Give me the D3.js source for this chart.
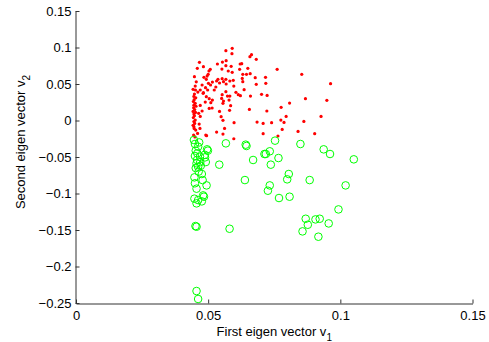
<!DOCTYPE html>
<html lang="en">

<head>
    <meta charset="utf-8">
    <script src='https://d3js.org/d3.v7.min.js'></script>
    <style>
        body { margin: 0; background: #fff; }
        text { font-family: "Liberation Sans", Arial, sans-serif; }
    </style>
</head>

<body>

    <script>
        // cluster 1 (red dots): first and second eigen vector components
        const redX = [0.0591, 0.0567, 0.0664, 0.0658, 0.0590, 0.0467, 0.0554, 0.0568, 0.0535, 0.0587,
            0.0567, 0.0627, 0.0621, 0.0682, 0.0482, 0.0459, 0.0508, 0.0552, 0.0650, 0.0619,
            0.0761, 0.0854, 0.0503, 0.0500, 0.0576, 0.0591, 0.0496, 0.0484, 0.0659, 0.0645,
            0.0631, 0.0629, 0.0678, 0.0717, 0.0493, 0.0537, 0.0553, 0.0567, 0.0532, 0.0558,
            0.0582, 0.0595, 0.0516, 0.0543, 0.0568, 0.0501, 0.0509, 0.0477, 0.0490, 0.0529,
            0.0682, 0.0718, 0.0631, 0.0470, 0.0498, 0.0482, 0.0523, 0.0567, 0.0636, 0.0597,
            0.0461, 0.0481, 0.0553, 0.0573, 0.0582, 0.0614, 0.0605, 0.0660, 0.0702, 0.0723,
            0.0493, 0.0504, 0.0551, 0.0516, 0.0558, 0.0579, 0.0622, 0.0489, 0.0510, 0.0556,
            0.0808, 0.0868, 0.0949, 0.0470, 0.0504, 0.0515, 0.0585, 0.0776, 0.0581, 0.0543,
            0.0656, 0.0722, 0.0477, 0.0464, 0.0549, 0.0795, 0.0556, 0.0598, 0.0685, 0.0708,
            0.0740, 0.0775, 0.0787, 0.0862, 0.0927, 0.0470, 0.0466, 0.0532, 0.0562, 0.0469,
            0.0780, 0.0840, 0.0903, 0.0708, 0.0491, 0.0556, 0.0597, 0.0963, 0.0764, 0.0494,
            0.0451, 0.0443, 0.0452, 0.0448, 0.0446, 0.0453, 0.0447, 0.0444, 0.0451, 0.0446,
            0.0454, 0.0445, 0.0449, 0.0443, 0.0452, 0.0446, 0.0448, 0.0444, 0.0451, 0.0446,
            0.0449, 0.0443, 0.0446, 0.0453, 0.0447, 0.0460, 0.0445, 0.0450, 0.0455, 0.0448];
        const redY = [0.0989, 0.0957, 0.0902, 0.0875, 0.0916, 0.0797, 0.0801, 0.0820, 0.0774, 0.0742,
            0.0751, 0.0779, 0.0774, 0.0838, 0.0737, 0.0715, 0.0701, 0.0705, 0.0715, 0.0701,
            0.0701, 0.0632, 0.0678, 0.0632, 0.0678, 0.0660, 0.0609, 0.0591, 0.0641, 0.0632,
            0.0632, 0.0577, 0.0587, 0.0591, 0.0564, 0.0564, 0.0573, 0.0564, 0.0541, 0.0532,
            0.0541, 0.0550, 0.0527, 0.0514, 0.0500, 0.0509, 0.0486, 0.0486, 0.0450, 0.0459,
            0.0495, 0.0509, 0.0532, 0.0418, 0.0418, 0.0381, 0.0418, 0.0395, 0.0422, 0.0472,
            0.0390, 0.0372, 0.0354, 0.0335, 0.0335, 0.0354, 0.0386, 0.0335, 0.0358, 0.0344,
            0.0326, 0.0299, 0.0303, 0.0280, 0.0267, 0.0280, 0.0340, 0.0253, 0.0244, 0.0235,
            0.0239, 0.0299, 0.0276, 0.0207, 0.0166, 0.0171, 0.0203, 0.0180, 0.0139, 0.0125,
            0.0152, 0.0130, 0.0130, 0.0098, 0.0052, 0.0056, 0.0002, -0.0030, -0.0021, -0.0040,
            -0.0030, 0.0006, -0.0026, -0.0012, 0.0056, 0.0056, -0.0049, -0.0158, -0.0108, -0.0108,
            -0.0122, -0.0149, -0.0181, -0.0181, -0.0199, -0.0186, -0.0250, 0.0504, -0.0212, -0.0208,
            0.0472, 0.0427, 0.0418, 0.0363, 0.0330, 0.0310, 0.0285, 0.0260, 0.0235, 0.0210,
            0.0195, 0.0175, 0.0150, 0.0125, 0.0110, 0.0088, 0.0065, 0.0040, 0.0006, -0.0015,
            -0.0040, -0.0065, -0.0085, -0.0131, -0.0110, -0.0177, -0.0200, -0.0225, 0.0530, 0.0600];

        // cluster 2 (green circles)
        const greenX = [0.0446, 0.0450, 0.0462, 0.0496, 0.0499, 0.0567, 0.0642, 0.0645, 0.0753, 0.0849,
            0.0937, 0.0961, 0.1051, 0.0733, 0.0718, 0.0713, 0.0766, 0.0670, 0.0737, 0.0542,
            0.0453, 0.0459, 0.0469, 0.0450, 0.0488, 0.0491, 0.0456, 0.0462, 0.0453, 0.0476,
            0.0448, 0.0479, 0.0494, 0.0456, 0.0639, 0.0733, 0.0726, 0.0799, 0.0805, 0.0884,
            0.1020, 0.0768, 0.0808, 0.0481, 0.0484, 0.0448, 0.0462, 0.0476, 0.0456, 0.0993,
            0.0869, 0.0906, 0.0922, 0.0877, 0.0956, 0.0857, 0.0917, 0.0581, 0.0452, 0.0456,
            0.0456, 0.0462, 0.0466, 0.0458, 0.0470, 0.0464, 0.0450, 0.0487, 0.0472];
        const greenY = [-0.0267, -0.0322, -0.0359, -0.0395, -0.0413, -0.0313, -0.0331, -0.0349, -0.0276, -0.0322,
            -0.0395, -0.0459, -0.0532, -0.0422, -0.0459, -0.0459, -0.0514, -0.0541, -0.0605, -0.0605,
            -0.0413, -0.0450, -0.0496, -0.0486, -0.0505, -0.0569, -0.0587, -0.0633, -0.0651, -0.0733,
            -0.0779, -0.0816, -0.0889, -0.0934, -0.0816, -0.0889, -0.0962, -0.0806, -0.0733, -0.0816,
            -0.0889, -0.1062, -0.1044, -0.1026, -0.1044, -0.1071, -0.1090, -0.1108, -0.1135, -0.1218,
            -0.1346, -0.1355, -0.1346, -0.1428, -0.1410, -0.1519, -0.1592, -0.1483, -0.1446, -0.1455,
            -0.2336, -0.2445, -0.0300, -0.0540, -0.0570, -0.0700, -0.0860, -0.0470, -0.0620];

        const xTicks = [0, 0.05, 0.1, 0.15];
        const xTickLabels = ["0", "0.05", "0.1", "0.15"];
        const yTicks = [-0.25, -0.2, -0.15, -0.1, -0.05, 0, 0.05, 0.1, 0.15];
        const yTickLabels = ["\u22120.25", "\u22120.2", "\u22120.15", "\u22120.1", "\u22120.05", "0", "0.05", "0.1", "0.15"];

        const width = 489, height = 342;
        const margin = {left: 76, top: 11, right: 16.5, bottom: 39};

        const svg = d3.select("body").append("svg")
            .attr("width", width)
            .attr("height", height);

        const x = d3.scaleLinear().domain([0, 0.15]).range([margin.left, width - margin.right]);
        const y = d3.scaleLinear().domain([-0.25, 0.15]).range([height - margin.bottom, margin.top]);

        // red dots
        const red = redX.map((d, i) => ({x: d, y: redY[i]}));
        svg.append("g").selectAll("circle")
            .data(red)
            .enter()
            .append("circle")
            .attr("cx", d => x(d.x))
            .attr("cy", d => y(d.y))
            .attr("r", 1.6)
            .attr("fill", "#ff0000");

        // green circles
        const green = greenX.map((d, i) => ({x: d, y: greenY[i]}));
        svg.append("g").selectAll("circle")
            .data(green)
            .enter()
            .append("circle")
            .attr("cx", d => x(d.x))
            .attr("cy", d => y(d.y))
            .attr("r", 3.8)
            .attr("fill", "none")
            .attr("stroke", "#00ff00")
            .attr("stroke-width", 1);

        // axes, ticks pointing inward
        const xAxis = d3.axisBottom(x)
            .tickValues(xTicks)
            .tickFormat((d, i) => xTickLabels[i])
            .tickSizeInner(-4).tickSizeOuter(0).tickPadding(7);
        const yAxis = d3.axisLeft(y)
            .tickValues(yTicks)
            .tickFormat((d, i) => yTickLabels[i])
            .tickSizeInner(-4).tickSizeOuter(0).tickPadding(4);

        const gx = svg.append("g")
            .attr("transform", "translate(0," + (height - margin.bottom + 0.5) + ")")
            .call(xAxis);
        const gy = svg.append("g")
            .attr("transform", "translate(" + (margin.left - 0.5) + ",0)")
            .call(yAxis);

        [gx, gy].forEach(g => {
            g.select(".domain").attr("stroke", "#333");
            g.selectAll(".tick line").attr("stroke", "#333");
            g.selectAll(".tick text")
                .attr("fill", "#000")
                .style("font-size", "13px")
                .style("font-family", "'Liberation Sans', Arial, sans-serif");
        });

        // axis titles
        const xt = svg.append("text")
            .attr("x", (x(0) + x(0.15)) / 2)
            .attr("y", 336)
            .attr("text-anchor", "middle")
            .style("font-size", "13px");
        xt.append("tspan").text("First eigen vector v");
        xt.append("tspan").attr("dy", 5).style("font-size", "10px").text("1");

        const yt = svg.append("text")
            .attr("transform", "translate(25,142) rotate(-90)")
            .attr("text-anchor", "middle")
            .style("font-size", "13px");
        yt.append("tspan").text("Second eigen vector v");
        yt.append("tspan").attr("dy", 5).style("font-size", "10px").text("2");
    </script>

</body>

</html>
